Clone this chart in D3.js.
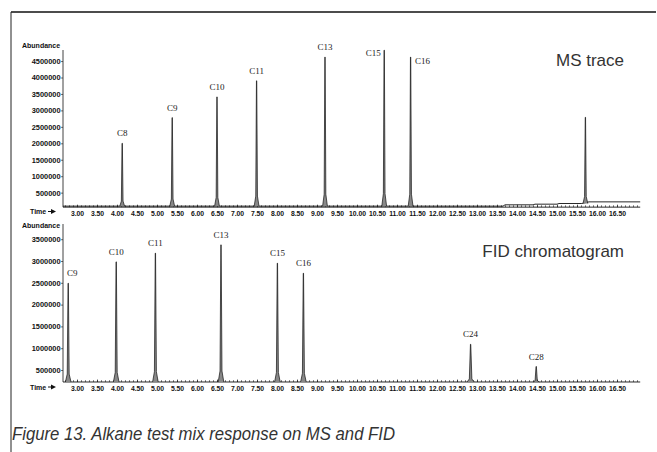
<!DOCTYPE html>
<html>
<head>
<meta charset="utf-8">
<script src="https://cdn.jsdelivr.net/npm/d3@7"></script>
<style>
  body { margin: 0; background: #fff; }
  .tick text { font-family: "Liberation Sans", Arial, sans-serif; font-weight: bold; font-size: 6.8px; fill: #111; }
  .yax .tick text { font-size: 7.4px; }
  .tick line { stroke: #111; stroke-width: 0.6; }
  .plab { font-family: "Liberation Serif", "Times New Roman", serif; font-size: 9px; fill: #222; }
  .small { font-family: "Liberation Sans", Arial, sans-serif; font-weight: bold; font-size: 7px; fill: #111; }
  .title { font-family: "Liberation Sans", Arial, sans-serif; font-size: 17px; fill: #333; }
</style>
</head>
<body>
<svg id="chart" width="657" height="452"></svg>
<script>
// tick labels
const timeTicks = [3.0, 3.5, 4.0, 4.5, 5.0, 5.5, 6.0, 6.5, 7.0, 7.5, 8.0, 8.5, 9.0, 9.5,
  10.0, 10.5, 11.0, 11.5, 12.0, 12.5, 13.0, 13.5, 14.0, 14.5, 15.0, 15.5, 16.0, 16.5];
const msTicks = [500000, 1000000, 1500000, 2000000, 2500000, 3000000, 3500000, 4000000, 4500000];
const fidTicks = [500000, 1000000, 1500000, 2000000, 2500000, 3000000, 3500000];

// MS trace peaks
const msNames = ["C8", "C9", "C10", "C11", "C13", "C15", "C16", ""];
const msTimes = [4.13, 5.38, 6.50, 7.49, 9.20, 10.68, 11.34, 15.71];
const msHeights = [2000000, 2780000, 3410000, 3900000, 4620000, 4830000, 4620000, 2790000];
// MS baseline (time, abundance)
const msBaseT = [2.65, 13.65, 13.70, 14.40, 14.45, 15.00, 15.05, 15.62, 15.80, 17.08];
const msBaseV = [90000, 90000, 130000, 130000, 150000, 150000, 170000, 170000, 220000, 220000];

// FID chromatogram peaks
const fidNames = ["C9", "C10", "C11", "C13", "C15", "C16", "C24", "C28"];
const fidTimes = [2.78, 3.98, 4.96, 6.60, 8.01, 8.66, 12.84, 14.48];
const fidHeights = [2490000, 2980000, 3180000, 3370000, 2950000, 2720000, 1090000, 580000];
const fidWidths = [0.07, 0.07, 0.07, 0.07, 0.07, 0.07, 0.09, 0.08];
const fidBase = 225000;

// label offsets (px) for labels not centred above their peak
const msLabelPos = { C15: [-11, 6], C16: [12, 7] };
const fidLabelPos = { C9: [4, -7] };

const svg = d3.select("#chart");
const x = d3.scaleLinear().domain([3, 16.5]).range([77, 617]);
const tStart = 2.65, tEnd = 17.08;

// frame
svg.append("line").attr("x1", 11).attr("x2", 656).attr("y1", 12).attr("y2", 12)
  .attr("stroke", "#111").attr("stroke-width", 1.5);
svg.append("line").attr("x1", 11).attr("x2", 11).attr("y1", 12).attr("y2", 452)
  .attr("stroke", "#222").attr("stroke-width", 1);

function panel(y, ticks, yTop, axisVal, title, titleX, titleY, absY, timeY) {
  const g = svg.append("g");
  // y axis
  const ya = g.append("g").attr("class", "yax").attr("transform", "translate(63,0)")
    .call(d3.axisLeft(y).tickValues(ticks).tickSize(2).tickPadding(0.5).tickFormat(d3.format("d")));
  ya.select(".domain").remove();
  g.append("line").attr("x1", 63).attr("x2", 63).attr("y1", yTop).attr("y2", y(axisVal))
    .attr("stroke", "#111").attr("stroke-width", 0.8);
  // x axis
  const x0 = y(axisVal);
  g.append("line").attr("x1", x(tStart)).attr("x2", x(tEnd)).attr("y1", x0).attr("y2", x0)
    .attr("stroke", "#111").attr("stroke-width", 0.9);
  const minor = d3.range(27, 171).map(d => d / 10);
  const xm = g.append("g").attr("transform", `translate(0,${x0})`)
    .call(d3.axisBottom(x).tickValues(minor).tickSize(-1.8).tickFormat(""));
  xm.select(".domain").remove();
  const xa = g.append("g").attr("transform", `translate(0,${x0})`)
    .call(d3.axisBottom(x).tickValues(timeTicks).tickSize(-2.5).tickPadding(4).tickFormat(d3.format(".2f")));
  xa.select(".domain").remove();
  g.append("text").attr("class", "small").attr("x", 22).attr("y", absY).text("Abundance");
  g.append("text").attr("class", "small").attr("x", 30).attr("y", timeY).text("Time");
  // arrow after "Time"
  g.append("line").attr("x1", 48).attr("x2", 52).attr("y1", timeY - 2.5).attr("y2", timeY - 2.5)
    .attr("stroke", "#111").attr("stroke-width", 1);
  g.append("path").attr("d", `M51,${timeY - 5}L56,${timeY - 2.5}L51,${timeY}Z`).attr("fill", "#111");
  g.append("text").attr("class", "title").attr("x", titleX).attr("y", titleY)
    .attr("text-anchor", "end").text(title);
  return g;
}

function peakPath(y, t, h, b, w) {
  const pts = [[t - w, b], [t - w * 0.35, b + (h - b) * 0.08], [t - 0.004, h], [t + 0.004, h],
    [t + w * 0.35, b + (h - b) * 0.08], [t + w, b]];
  return d3.line().x(d => x(d[0])).y(d => y(d[1]))(pts);
}

// MS panel
const yMs = d3.scaleLinear().domain([0, 5000000]).range([209.1, 209.1 - 164.5]);
const gMs = panel(yMs, msTicks, 50, 60000, "MS trace", 624, 66, 48, 214);
gMs.append("path")
  .attr("d", d3.line().x((d, i) => x(d)).y((d, i) => yMs(msBaseV[i]))(msBaseT))
  .attr("fill", "none").attr("stroke", "#111").attr("stroke-width", 0.9);
msTimes.forEach((t, i) => {
  const base = t > 15 ? 170000 : 90000;
  gMs.append("path").attr("d", peakPath(yMs, t, msHeights[i], base, 0.06))
    .attr("fill", "#888").attr("stroke", "#111").attr("stroke-width", 0.7);
  if (msNames[i]) {
    const o = msLabelPos[msNames[i]] || [0, -7];
    gMs.append("text").attr("class", "plab").attr("text-anchor", "middle")
      .attr("x", x(t) + o[0]).attr("y", yMs(msHeights[i]) + o[1]).text(msNames[i]);
  }
});

// FID panel
const yFid = d3.scaleLinear().domain([0, 4000000]).range([391.8, 391.8 - 174.4]);
const gFid = panel(yFid, fidTicks, 224, fidBase, "FID chromatogram", 624, 257, 228, 389.5);
fidTimes.forEach((t, i) => {
  gFid.append("path").attr("d", peakPath(yFid, t, fidHeights[i], fidBase, fidWidths[i]))
    .attr("fill", "#888").attr("stroke", "#111").attr("stroke-width", 0.7);
  const o = fidLabelPos[fidNames[i]] || [0, -7];
  gFid.append("text").attr("class", "plab").attr("text-anchor", "middle")
    .attr("x", x(t) + o[0]).attr("y", yFid(fidHeights[i]) + o[1]).text(fidNames[i]);
});

// caption
svg.append("text").attr("x", 12).attr("y", 440)
  .attr("font-family", "Liberation Sans, Arial, sans-serif").attr("font-style", "italic")
  .attr("font-size", 17.5).attr("fill", "#333")
  .attr("textLength", 383).attr("lengthAdjust", "spacingAndGlyphs")
  .text("Figure 13. Alkane test mix response on MS and FID");
</script>
</body>
</html>
